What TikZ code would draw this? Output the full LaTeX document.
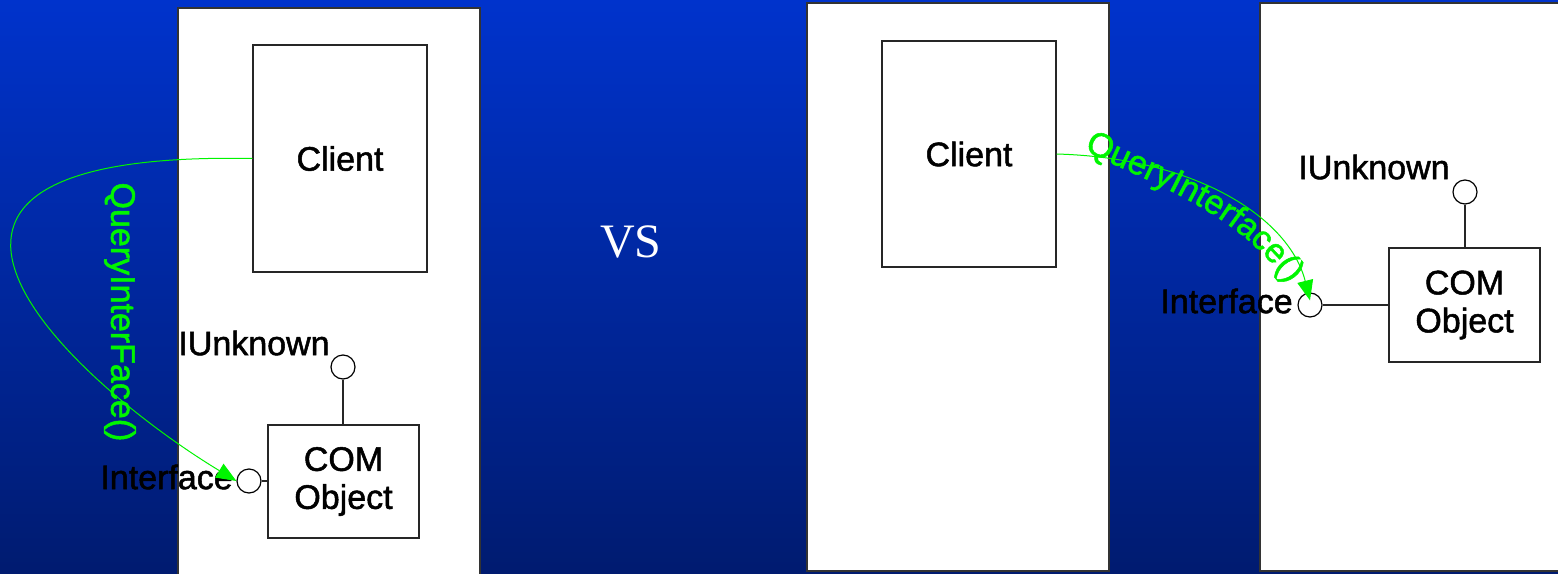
\documentclass[tikz,border=0pt]{standalone}
\usepackage{fontspec}
\setmainfont{Liberation Sans}
\newfontfamily\lblfam{Liberation Sans}[FakeBold=1.5]
\newfontfamily\vsfont{Liberation Serif}
\usetikzlibrary{arrows.meta,decorations.text}
\definecolor{bgtop}{RGB}{0,51,204}
\definecolor{bgbot}{RGB}{0,27,112}
\definecolor{qgreen}{RGB}{0,245,0}
\newcommand\lblfont{\lblfam\fontsize{17}{19}\selectfont}
\begin{document}
\begin{tikzpicture}[x=0.5pt,y=-0.5pt,
  panel/.style={draw=black!80,line width=0.8pt,fill=white,inner sep=0pt},
  box/.style={draw=black!85,line width=0.6pt,fill=white,inner sep=0pt,font=\lblfont,align=center},
  port/.style={circle,draw=black,line width=0.6pt,fill=white,minimum size=12pt,inner sep=0pt},
  lbl/.style={font=\lblfont,inner sep=0pt,anchor=west},
  link/.style={line width=0.6pt,draw=black!85},
  qarrow/.style={draw=qgreen,line width=0.5pt,-{Triangle[length=10pt,width=8pt]}},
  qlabel/.style={font=\lblfont,text=qgreen,inner sep=0pt}]
\useasboundingbox (0,0) rectangle (1558,573);
\shade[top color=bgtop,bottom color=bgbot] (0,0) rectangle (1558,573);

% panels
\node[panel,minimum width=151pt,minimum height=291pt] (panL) at (329,299) {};
\node[panel,minimum width=151pt,minimum height=284pt] (panM) at (958,287) {};
\node[panel,minimum width=155pt,minimum height=284pt] (panR) at (1415,287) {};

% VS
\node[font=\vsfont\fontsize{24}{28}\selectfont,text=white,inner sep=0pt] (vs) at (631,242) {VS};

% left side
\node[box,minimum width=87pt,minimum height=113.5pt] (clientL) at (340,158.5) {};
\node[font=\lblfont,inner sep=0pt] (clientLt) at (340,158.5) {Client};
\node[box,minimum width=75.5pt,minimum height=56.5pt] (comL) at (343.5,481.5) {COM\\Object};
\node[port] (iuL) at (343,367) {};
\node[port] (ifL) at (249,481) {};
\node[lbl] (iuLt) at (178,343) {IUnknown};
\node[lbl] (ifLt) at (100,477) {Interface};
\draw[link] (iuL.south) -- (iuL.south |- comL.north);
\draw[link] (ifL.east) -- (ifL.east -| comL.west);
\node[qlabel,rotate=-90] (qL) at (120,312) {QueryInterFace()};
\draw[qarrow] (clientL.west) .. controls (-180,150) and (70,380) .. (ifL.west);

% right side
\node[box,minimum width=87pt,minimum height=113pt] (clientR) at (969,154) {};
\node[font=\lblfont,inner sep=0pt] (clientRt) at (969,154) {Client};
\node[box,minimum width=75.5pt,minimum height=57pt] (comR) at (1464.5,305) {COM\\Object};
\node[port] (iuR) at (1465,192) {};
\node[port] (ifR) at (1310,305) {};
\node[lbl] (iuRt) at (1298,167) {IUnknown};
\node[lbl] (ifRt) at (1160,301) {Interface};
\draw[link] (iuR.south) -- (iuR.south |- comR.north);
\draw[link] (ifR.east) -- (ifR.east -| comR.west);
\draw[qarrow] (clientR.east) .. controls (1200,158) and (1290,220) .. ([yshift=-4pt]ifR.north);
\path[decorate,decoration={text along path,
   text={|\lblfont\color{qgreen}|QueryInterface()}}]
   (1084,150) .. controls (1150,184) and (1240,210) .. (1294,292);
\end{tikzpicture}
\end{document}
